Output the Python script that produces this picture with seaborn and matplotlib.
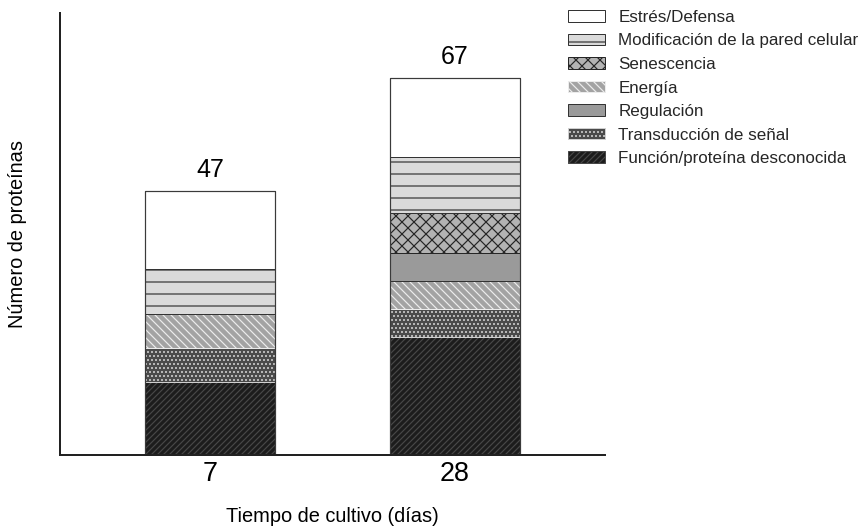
import numpy as np
import seaborn as sns
import matplotlib.pyplot as plt
from matplotlib.patches import Patch

# datos (numero de proteinas por categoria)
dias = ["7", "28"]
categorias = ["Función/proteína desconocida", "Transducción de señal", "Energía",
              "Regulación", "Senescencia", "Modificación de la pared celular",
              "Estrés/Defensa"]
funcion = [13, 21]
transduccion = [6, 5]
energia = [6, 5]
regulacion = [0, 5]
senescencia = [0, 7]
pared = [8, 10]
estres = [14, 14]
orden_leyenda = ["Estrés/Defensa", "Modificación de la pared celular", "Senescencia",
                 "Energía", "Regulación", "Transducción de señal",
                 "Función/proteína desconocida"]

series = [funcion, transduccion, energia, regulacion, senescencia, pared, estres]
totales = np.sum(series, axis=0)

# estilo de cada segmento: (relleno, color de trama/borde, trama)
estilos = {
    "Función/proteína desconocida": ("#1c1c1c", "#474747", "////"),
    "Transducción de señal": ("#4a4a4a", "#cfcfcf", "..."),
    "Energía": ("#a3a3a3", "#ececec", "\\\\\\"),
    "Regulación": ("#9a9a9a", "#333333", ""),
    "Senescencia": ("#b3b3b3", "#262626", "xx"),
    "Modificación de la pared celular": ("#dadada", "#333333", "-"),
    "Estrés/Defensa": ("#ffffff", "#333333", ""),
}

sns.set_theme(style="white")
plt.rcParams['font.family'] = ['Liberation Sans', 'DejaVu Sans']
plt.rcParams['hatch.linewidth'] = 1.2

fig = plt.figure(figsize=(12, 530 / 72), dpi=72)
ax = fig.add_axes([60 / 864, 75 / 530, 545 / 864, 442 / 530])

bottom = np.zeros(len(dias))
for nombre, valores in zip(categorias, series):
    cara, borde, trama = estilos[nombre]
    sns.barplot(x=dias, y=valores, order=dias, bottom=bottom, color=cara,
                saturation=1, edgecolor=borde, hatch=trama, linewidth=1,
                width=0.53, errorbar=None, ax=ax)
    bottom = bottom + np.array(valores)

# contorno de cada barra completa
sns.barplot(x=dias, y=totales, order=dias, fill=False, color="#3a3a3a",
            linewidth=1.2, width=0.53, errorbar=None, ax=ax)

for i, t in enumerate(totales):
    ax.annotate(str(t), (i, t), xytext=(0, 14), textcoords="offset points",
                ha="center", va="baseline", fontsize=25, color="black")

ax.set_xlim(-0.612, 1.612)
ax.set_ylim(0, 78.6)
ax.set_yticks([])
ax.tick_params(axis="x", length=0, pad=6, labelsize=27, colors="black")
ax.set_xlabel("Tiempo de cultivo (días)", fontsize=20, labelpad=20, color="black")
ax.set_ylabel("Número de proteínas", fontsize=20, labelpad=33, color="black")
sns.despine(ax=ax)
for lado in ["left", "bottom"]:
    ax.spines[lado].set_linewidth(2)
    ax.spines[lado].set_color("#222222")

handles = []
for nombre in orden_leyenda:
    cara, borde, trama = estilos[nombre]
    handles.append(Patch(facecolor=cara, edgecolor=borde, hatch=trama, linewidth=1))
fig.legend(handles, orden_leyenda, loc="upper left",
           bbox_to_anchor=(568 / 864, 1 - 10 / 530), frameon=False, fontsize=17,
           handlelength=2.2, handleheight=0.65, handletextpad=0.76,
           labelspacing=0.5, borderpad=0, borderaxespad=0)

fig.savefig("out.png", dpi=72)
